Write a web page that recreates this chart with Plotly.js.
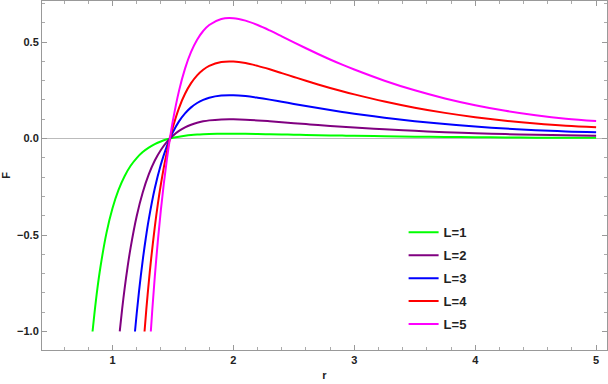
<!DOCTYPE html>
<html>
<head>
<meta charset="utf-8">
<script src="https://cdn.plot.ly/plotly-3.0.1.min.js"></script>
<style>
  html, body { margin: 0; padding: 0; background: #fff; }
  #chart { width: 608px; height: 384px; }
</style>
</head>
<body>
<div id="chart"></div>
<script>
// r values where each curve rises from F = -1 up to the crossing at r ~ 1.475
var rNeg1 = [0.835, 0.85, 0.875, 0.9, 0.95, 1.0, 1.05, 1.1, 1.15, 1.2, 1.25, 1.3, 1.35, 1.4, 1.45];
var fNeg1 = [-1.0, -0.911, -0.778, -0.667, -0.490, -0.361, -0.266, -0.195, -0.141, -0.101, -0.070, -0.047, -0.029, -0.015, -0.004];

var rNeg2 = [1.06, 1.08, 1.1, 1.125, 1.15, 1.2, 1.25, 1.3, 1.35, 1.4, 1.45];
var fNeg2 = [-1.0, -0.883, -0.779, -0.665, -0.565, -0.403, -0.280, -0.186, -0.114, -0.059, -0.017];

var rNeg3 = [1.186, 1.2, 1.22, 1.25, 1.275, 1.3, 1.35, 1.4, 1.45];
var fNeg3 = [-1.0, -0.908, -0.788, -0.631, -0.518, -0.419, -0.258, -0.134, -0.039];

var rNeg4 = [1.265, 1.28, 1.3, 1.32, 1.35, 1.375, 1.4, 1.425, 1.45];
var fNeg4 = [-1.0, -0.884, -0.746, -0.621, -0.458, -0.340, -0.238, -0.148, -0.069];

var rNeg5 = [1.317, 1.33, 1.35, 1.375, 1.4, 1.425, 1.45];
var fNeg5 = [-1.0, -0.881, -0.716, -0.532, -0.371, -0.231, -0.108];

// shared r values from the crossing out to r = 5
var rPos = [1.475, 1.5, 1.55, 1.6, 1.65, 1.7, 1.75, 1.8, 1.9, 2.0, 2.1, 2.2, 2.3, 2.4, 2.5, 2.6, 2.7, 2.8, 2.9, 3.0, 3.25, 3.5, 3.75, 4.0, 4.25, 4.5, 4.75, 5.0];
var fPos1 = [0, 0.0038, 0.0099, 0.0145, 0.0180, 0.0205, 0.0223, 0.0235, 0.0248, 0.0250, 0.0244, 0.0235, 0.0224, 0.0212, 0.0200, 0.0187, 0.0175, 0.0164, 0.0153, 0.0143, 0.0120, 0.0100, 0.0083, 0.0069, 0.0058, 0.0048, 0.0041, 0.0037];
var fPos2 = [0, 0.0150, 0.0395, 0.0580, 0.0718, 0.0820, 0.0892, 0.0942, 0.0992, 0.0998, 0.0978, 0.0942, 0.0897, 0.0848, 0.0798, 0.0749, 0.0701, 0.0656, 0.0613, 0.0573, 0.0480, 0.0400, 0.0333, 0.0277, 0.0230, 0.0194, 0.0165, 0.0146];
var fPos3 = [0, 0.0338, 0.0889, 0.1306, 0.1616, 0.1844, 0.2007, 0.2119, 0.2232, 0.2246, 0.2200, 0.2118, 0.2018, 0.1908, 0.1796, 0.1685, 0.1578, 0.1476, 0.1379, 0.1289, 0.1080, 0.0900, 0.0749, 0.0623, 0.0518, 0.0436, 0.0371, 0.0329];
var fPos4 = [0, 0.0601, 0.1581, 0.2321, 0.2873, 0.3278, 0.3568, 0.3767, 0.3968, 0.3993, 0.3911, 0.3766, 0.3588, 0.3393, 0.3193, 0.2996, 0.2805, 0.2623, 0.2452, 0.2291, 0.1920, 0.1600, 0.1331, 0.1107, 0.0922, 0.0774, 0.0659, 0.0584];
var fPos5 = [0, 0.0939, 0.2471, 0.3627, 0.4489, 0.5122, 0.5575, 0.5887, 0.6201, 0.6239, 0.6111, 0.5885, 0.5606, 0.5301, 0.4989, 0.4681, 0.4383, 0.4099, 0.3831, 0.3580, 0.3000, 0.2500, 0.2080, 0.1730, 0.1440, 0.1210, 0.1030, 0.0913];

var names = ["L=1", "L=2", "L=3", "L=4", "L=5"];
var colors = ["#00ff00", "#800080", "#0000ff", "#ff0000", "#ff00ff"];

var rNeg = [rNeg1, rNeg2, rNeg3, rNeg4, rNeg5];
var fNeg = [fNeg1, fNeg2, fNeg3, fNeg4, fNeg5];
var fPos = [fPos1, fPos2, fPos3, fPos4, fPos5];

var data = names.map(function (name, i) {
  return {
    x: rNeg[i].concat(rPos),
    y: fNeg[i].concat(fPos[i]),
    type: "scatter",
    mode: "lines",
    name: name,
    legendgroup: "g" + i,
    line: { color: colors[i], width: 2, shape: "spline", smoothing: 1 }
  };
});

var tickFont = { family: "Liberation Sans, Arial, sans-serif", size: 11, color: "#222", weight: "bold" };

var layout = {
  width: 608,
  height: 384,
  margin: { l: 42, r: 1, t: 1, b: 34 },
  paper_bgcolor: "#fff",
  plot_bgcolor: "#fff",
  showlegend: true,
  legend: {
    x: 0.64, y: 0.38, xanchor: "left", yanchor: "top",
    font: { family: "Liberation Sans, Arial, sans-serif", size: 13, color: "#222", weight: "bold" },
    bgcolor: "rgba(0,0,0,0)",
    tracegroupgap: 3
  },
  xaxis: {
    range: [0.417, 5.09],
    tickvals: [1, 2, 3, 4, 5],
    ticks: "inside", ticklen: 5, tickcolor: "#999", tickwidth: 1,
    minor: { dtick: 0.2, tick0: 0, ticks: "inside", ticklen: 3, tickcolor: "#aaa" },
    showline: true, linecolor: "#999", linewidth: 1, mirror: "ticks",
    showgrid: false, zeroline: false,
    tickfont: tickFont,
    title: { text: "r", font: tickFont, standoff: 6 }
  },
  yaxis: {
    range: [-1.096, 0.713],
    tickvals: [-1.0, -0.5, 0.0, 0.5],
    ticktext: ["\u22121.0", "\u22120.5", "0.0", "0.5"],
    ticks: "inside", ticklen: 5, tickcolor: "#999", tickwidth: 1,
    minor: { dtick: 0.1, tick0: 0, ticks: "inside", ticklen: 3, tickcolor: "#aaa" },
    showline: true, linecolor: "#999", linewidth: 1, mirror: "ticks",
    showgrid: false, zeroline: true, zerolinecolor: "#bbb", zerolinewidth: 1,
    tickfont: tickFont,
    title: { text: "F", font: tickFont, standoff: 6 }
  }
};

Plotly.newPlot("chart", data, layout, { displayModeBar: false, staticPlot: true });
</script>
</body>
</html>
